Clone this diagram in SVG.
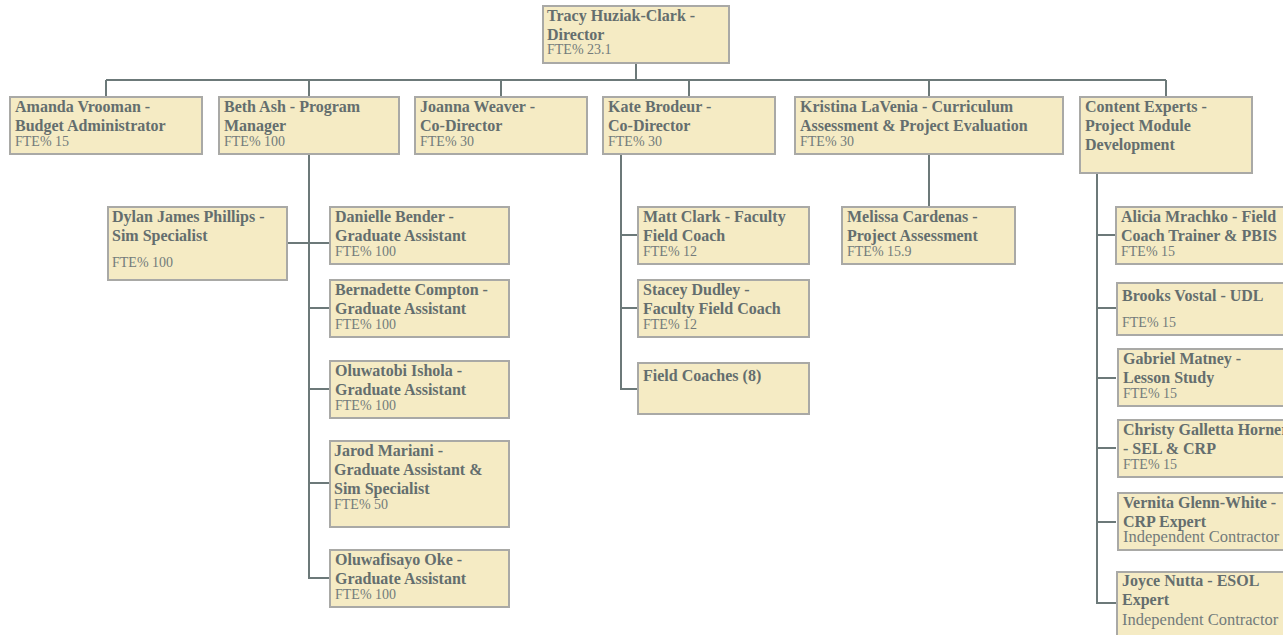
<svg xmlns="http://www.w3.org/2000/svg" width="1283" height="635" viewBox="0 0 1283 635">
<style>
.box{fill:#f5ebc4;stroke:#a9a9a6;stroke-width:2}
.t{font-family:"Liberation Serif",serif;font-weight:bold;font-size:16px;fill:#646e6e}
.f{font-family:"Liberation Serif",serif;font-size:14px;fill:#737b7b}
.ic{font-family:"Liberation Serif",serif;font-size:16.5px;fill:#737b7b}
.c{fill:none;stroke:#6c7979;stroke-width:2}
</style>
<rect width="1283" height="635" fill="#ffffff"/>
<g id="connectors">
<path class="c" d="M636 63V80M106 80H1166M106 80V97M309 80V97M501 80V97M689 80V97M929 80V97M1166 80V97"/>
<path class="c" d="M309 154V578H329M287 243H329M309 308H329M309 389H329M309 483H329"/>
<path class="c" d="M621 154V389H637M621 235H637M621 308H637"/>
<path class="c" d="M929 154V207"/>
<path class="c" d="M1097 173V603H1116M1097 235H1116M1097 308H1116M1097 378H1116M1097 448H1116M1097 522H1116"/>
</g>
<g id="n-tracy"><rect class="box" x="543" y="6" width="186" height="57"/><text class="t" x="547" y="21">Tracy Huziak-Clark -</text><text class="t" x="547" y="40">Director</text><text class="f" x="547" y="54">FTE% 23.1</text></g>
<g id="n-amanda"><rect class="box" x="10" y="97" width="192" height="57"/><text class="t" x="15" y="112">Amanda Vrooman -</text><text class="t" x="15" y="131">Budget Administrator</text><text class="f" x="15" y="146">FTE% 15</text></g>
<g id="n-beth"><rect class="box" x="219" y="97" width="180" height="57"/><text class="t" x="224" y="112">Beth Ash - Program</text><text class="t" x="224" y="131">Manager</text><text class="f" x="224" y="146">FTE% 100</text></g>
<g id="n-joanna"><rect class="box" x="415" y="97" width="172" height="57"/><text class="t" x="420" y="112">Joanna Weaver -</text><text class="t" x="420" y="131">Co-Director</text><text class="f" x="420" y="146">FTE% 30</text></g>
<g id="n-kate"><rect class="box" x="603" y="97" width="172" height="57"/><text class="t" x="608" y="112">Kate Brodeur -</text><text class="t" x="608" y="131">Co-Director</text><text class="f" x="608" y="146">FTE% 30</text></g>
<g id="n-kristina"><rect class="box" x="795" y="97" width="268" height="57"/><text class="t" x="800" y="112">Kristina LaVenia - Curriculum</text><text class="t" x="800" y="131">Assessment &amp; Project Evaluation</text><text class="f" x="800" y="146">FTE% 30</text></g>
<g id="n-content"><rect class="box" x="1080" y="97" width="172" height="76"/><text class="t" x="1085" y="112">Content Experts -</text><text class="t" x="1085" y="131">Project Module</text><text class="t" x="1085" y="150">Development</text></g>
<g id="n-dylan"><rect class="box" x="108" y="207" width="179" height="73"/><text class="t" x="112" y="222">Dylan James Phillips  -</text><text class="t" x="112" y="241">Sim Specialist</text><text class="f" x="112" y="267">FTE% 100</text></g>
<g id="n-danielle"><rect class="box" x="330" y="207" width="179" height="57"/><text class="t" x="335" y="222">Danielle Bender -</text><text class="t" x="335" y="241">Graduate Assistant</text><text class="f" x="335" y="256">FTE% 100</text></g>
<g id="n-bernadette"><rect class="box" x="330" y="280" width="179" height="57"/><text class="t" x="335" y="295">Bernadette Compton  -</text><text class="t" x="335" y="314">Graduate Assistant</text><text class="f" x="335" y="329">FTE% 100</text></g>
<g id="n-oluwatobi"><rect class="box" x="330" y="361" width="179" height="57"/><text class="t" x="335" y="376">Oluwatobi Ishola -</text><text class="t" x="335" y="395">Graduate Assistant</text><text class="f" x="335" y="410">FTE% 100</text></g>
<g id="n-jarod"><rect class="box" x="330" y="441" width="179" height="86"/><text class="t" x="334" y="456">Jarod Mariani -</text><text class="t" x="334" y="475">Graduate Assistant &amp;</text><text class="t" x="334" y="494">Sim Specialist</text><text class="f" x="334" y="509">FTE% 50</text></g>
<g id="n-oluwafisayo"><rect class="box" x="330" y="550" width="179" height="57"/><text class="t" x="335" y="565">Oluwafisayo Oke -</text><text class="t" x="335" y="584">Graduate Assistant</text><text class="f" x="335" y="599">FTE% 100</text></g>
<g id="n-matt"><rect class="box" x="638" y="207" width="171" height="57"/><text class="t" x="643" y="222">Matt Clark - Faculty</text><text class="t" x="643" y="241">Field Coach</text><text class="f" x="643" y="256">FTE% 12</text></g>
<g id="n-stacey"><rect class="box" x="638" y="280" width="171" height="57"/><text class="t" x="643" y="295">Stacey Dudley -</text><text class="t" x="643" y="314">Faculty Field Coach</text><text class="f" x="643" y="329">FTE% 12</text></g>
<g id="n-fieldcoaches"><rect class="box" x="638" y="363" width="171" height="51"/><text class="t" x="643" y="381">Field Coaches (8)</text></g>
<g id="n-melissa"><rect class="box" x="842" y="207" width="173" height="57"/><text class="t" x="847" y="222">Melissa Cardenas -</text><text class="t" x="847" y="241">Project Assessment</text><text class="f" x="847" y="256">FTE% 15.9</text></g>
<g id="n-alicia"><rect class="box" x="1116" y="207" width="180" height="57"/><text class="t" x="1121" y="222">Alicia Mrachko - Field</text><text class="t" x="1121" y="241">Coach Trainer &amp; PBIS</text><text class="f" x="1121" y="256">FTE% 15</text></g>
<g id="n-brooks"><rect class="box" x="1117" y="283" width="180" height="52"/><text class="t" x="1122" y="301">Brooks Vostal - UDL</text><text class="f" x="1122" y="327">FTE% 15</text></g>
<g id="n-gabriel"><rect class="box" x="1118" y="349" width="180" height="57"/><text class="t" x="1123" y="364">Gabriel Matney -</text><text class="t" x="1123" y="383">Lesson Study</text><text class="f" x="1123" y="398">FTE% 15</text></g>
<g id="n-christy"><rect class="box" x="1118" y="420" width="180" height="57"/><text class="t" x="1123" y="435">Christy Galletta Horner</text><text class="t" x="1123" y="454">- SEL &amp; CRP</text><text class="f" x="1123" y="469">FTE% 15</text></g>
<g id="n-vernita"><rect class="box" x="1118" y="493" width="180" height="57"/><text class="t" x="1123" y="508">Vernita Glenn-White -</text><text class="t" x="1123" y="527">CRP Expert</text><text class="ic" x="1123" y="542">Independent Contractor</text></g>
<g id="n-joyce"><rect class="box" x="1117" y="572" width="180" height="80"/><text class="t" x="1122" y="586">Joyce Nutta - ESOL</text><text class="t" x="1122" y="605">Expert</text><text class="ic" x="1122" y="625">Independent Contractor</text></g>
</svg>
